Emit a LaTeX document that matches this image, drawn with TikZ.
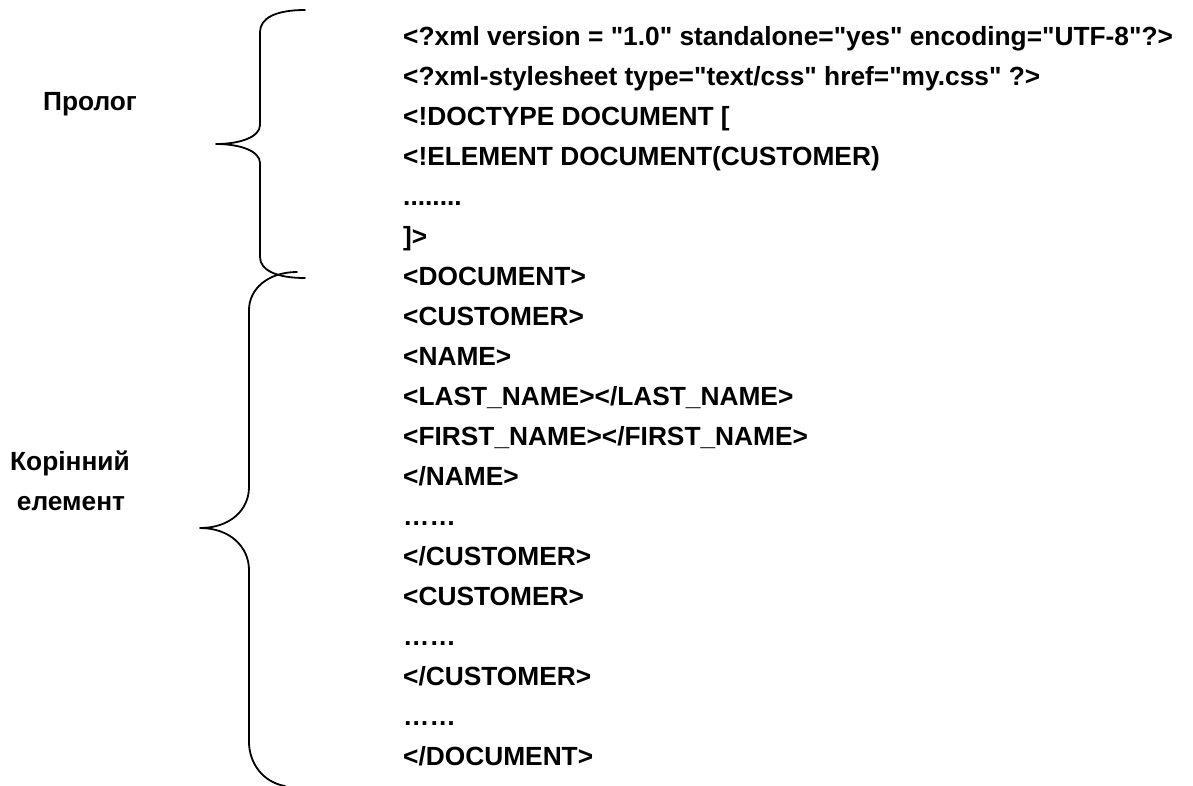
\documentclass[tikz,border=0pt]{standalone}
\usepackage{fontspec}
\setmainfont{Liberation Sans}[Ligatures=TeXOff]
\begin{document}
\begin{tikzpicture}[x=1pt,y=-1pt,
  code/.style={anchor=base west,inner sep=0pt,font=\fontsize{26.3}{30}\selectfont\bfseries},
  label/.style={anchor=base,inner sep=0pt,font=\fontsize{26.3}{30}\selectfont\bfseries},
  brace/.style={line width=1.8pt,line cap=round,line join=round}]
\useasboundingbox (0,0) rectangle (1193,785);

% listing lines, baseline every 40pt
\node[code] (l1)  at (403,45)  {<?xml version = "1.0" standalone="yes" encoding="UTF-8"?>};
\node[code] (l2)  at (403,85)  {<?xml-stylesheet type="text/css" href="my.css" ?>};
\node[code] (l3)  at (403,125) {<!DOCTYPE DOCUMENT [};
\node[code] (l4)  at (403,165) {<!ELEMENT DOCUMENT(CUSTOMER)};
\node[code] (l5)  at (403,205) {........};
\node[code] (l6)  at (403,245) {]>};
\node[code] (l7)  at (403,285) {<DOCUMENT>};
\node[code] (l8)  at (403,325) {<CUSTOMER>};
\node[code] (l9)  at (403,365) {<NAME>};
\node[code] (l10) at (403,405) {<LAST\_NAME></LAST\_NAME>};
\node[code] (l11) at (403,445) {<FIRST\_NAME></FIRST\_NAME>};
\node[code] (l12) at (403,485) {</NAME>};
\node[code] (l13) at (403,525) {……};
\node[code] (l14) at (403,565) {</CUSTOMER>};
\node[code] (l15) at (403,605) {<CUSTOMER>};
\node[code] (l16) at (403,645) {……};
\node[code] (l17) at (403,685) {</CUSTOMER>};
\node[code] (l18) at (403,725) {……};
\node[code] (l19) at (403,765) {</DOCUMENT>};

% side labels
\node[label] (prolog) at (90,110) {Пролог};
\node[label] (root1) at (70,470) {Корінний};
\node[label] (root2) at (71,510) {елемент};

% prolog brace
\draw[brace] (305,10) .. controls (276,10) and (260,18) .. (260,32)
  -- (260,125) .. controls (260,137) and (240,144) .. (216,144)
  .. controls (240,144) and (260,151) .. (260,163)
  -- (260,257) .. controls (260,270) and (276,278) .. (305,278);

% root element brace
\draw[brace] (297,272) .. controls (268,272) and (249,289) .. (249,310)
  -- (249,487) .. controls (249,510) and (230,528) .. (200,528)
  .. controls (230,528) and (249,547) .. (249,570)
  -- (249,742) .. controls (249,762) and (262,782) .. (285,786);
\end{tikzpicture}
\end{document}
